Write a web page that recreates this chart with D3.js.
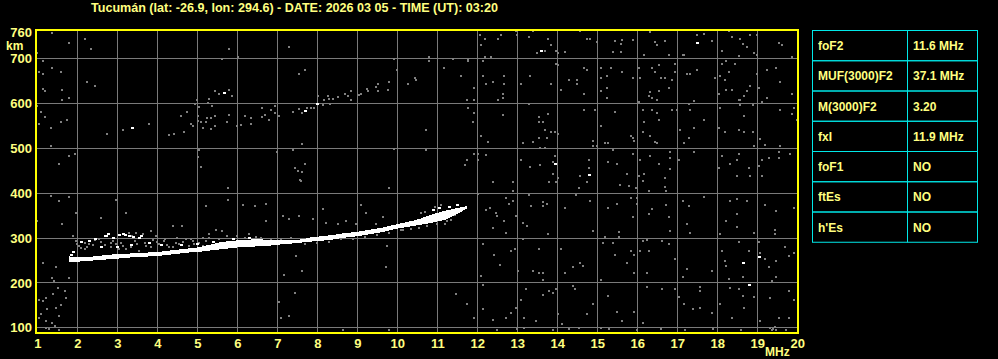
<!DOCTYPE html>
<html><head><meta charset="utf-8">
<script src="https://cdn.jsdelivr.net/npm/d3@7/dist/d3.min.js"></script>
<style>
html,body{margin:0;padding:0;background:#000;}
svg{display:block;}
text{font-family:"Liberation Sans",Arial,sans-serif;font-weight:bold;}
</style></head>
<body><svg id="c" width="998" height="359"></svg>
<script>
const titleText = "Tucumán (lat: -26.9, lon: 294.6) - DATE: 2026 03 05 - TIME (UT): 03:20";
const freqTicks = [1,2,3,4,5,6,7,8,9,10,11,12,13,14,15,16,17,18,19,20];
const heightTicks = [100,200,300,400,500,600,700,760];
const paramNames = ["foF2","MUF(3000)F2","M(3000)F2","fxI","foF1","ftEs","h'Es"];
const paramValues = ["11.6 MHz","37.1 MHz","3.20","11.9 MHz","NO","NO","NO"];

// main F-trace: frequency (MHz), lower and upper virtual height (km)
const traceF  = [1.8,2.0,2.2,2.4,2.6,2.8,3.0,3.2,3.4,3.6,3.8,4.0,4.2,4.4,4.6,4.8,5.0,5.2,5.4,5.6,5.8,6.0,6.2,6.4,6.6,6.8,7.0,7.2,7.4,7.6,7.8,8.0,8.2,8.4,8.6,8.8,9.0,9.2,9.4,9.6,9.8,10.0,10.2,10.4,10.6,10.8,11.0,11.2,11.4,11.6,11.75];
const traceLo = [245,246,248,249,250,252,253,255,256,257,258,259,261,263,265,267,268,270,272,274,276,278,279,280,281,282,284,286,287,289,291,292,294,296,299,301,303,306,309,312,316,320,323,326,329,332,336,340,348,358,365];
const traceHi = [258,256,257,258,260,262,263,264,265,266,267,268,270,272,274,276,278,282,286,290,292,294,295,296,296,295,294,294,295,296,300,302,304,306,309,311,313,316,319,322,326,330,334,338,343,350,355,360,364,368,370];

// bright echo points beside the trace
const whiteDots = [[2.68,304],[2.76,307],[2.72,304],[3.13,307],[3.05,306],[3.2,305],[3.3,304],[2.9,300],[3.55,300],[3.6,303],[3.4,301],[2.3,293],[2.45,296],[2.1,290],[1.9,268],[1.85,262],[2.6,278],[3.0,279],[3.35,283],[3.8,287],[4.1,283],[4.6,283],[5.0,286],[5.4,290],[5.9,297],[6.3,300],[10.9,362],[11.05,366],[11.3,368],[11.5,372],[3.38,545],[5.68,622],[7.68,582],[7.99,598],[13.59,716],[17.49,734],[13.93,465],[14.78,440],[18.63,244],[19.03,257],[18.78,194]];

// gray scatter / noise points
const grayDots = [
[1.38,756],[1.78,734],[2.19,743],[2.34,721],[1.0,712],[1.13,693],[1.03,670],[1.13,666],[1.38,678],[1.58,670],[2.23,648],[2.44,639],[1.15,632],[1.18,627],[1.63,629],[1.63,608],[1.78,611],[1.0,594],[1.09,580],[1.18,568],[1.03,553],[1.34,545],[1.59,559],[1.73,563],[1.34,505],[2.73,531],[3.13,541],[3.78,554],[4.30,529],[4.43,531],[4.68,536],[4.59,572],[4.73,581],[4.85,553],[4.88,550],[4.98,608],[4.95,598],[5.05,591],[5.03,571],[5.02,561],[5.09,559],[5.13,545],[5.22,559],[5.23,566],[5.30,609],[5.26,600],[5.34,566],[5.34,542],[5.44,571],[5.44,548],[5.38,594],[5.44,626],[5.53,620],[5.78,630],[5.88,617],[5.78,574],[5.73,557],[5.78,721],[5.63,698],[6.03,703],[6.00,550],[6.08,551],[6.19,572],[6.33,567],[6.33,554],[6.63,589],[6.68,574],[6.63,569],[6.78,562],[6.83,585],[6.93,594],[6.93,579],[7.03,572],[7.28,726],[7.53,666],[7.68,674],[7.38,581],[7.55,588],[7.62,578],[7.73,590],[7.85,590],[7.93,590],[8.03,617],[8.15,596],[8.18,608],[8.26,615],[8.30,609],[8.38,609],[8.33,599],[8.53,613],[8.70,620],[8.76,617],[8.83,626],[8.83,608],[9.03,618],[9.09,621],[9.23,631],[9.28,628],[9.48,637],[9.53,643],[9.53,626],[9.80,648],[9.78,630],[10.28,643],[10.43,655],[9.93,698],[9.98,675],[7.63,509],[6.98,492],[7.38,496],[7.43,456],[7.51,449],[7.63,447],[7.68,465],[7.58,429],[5.03,479],[5.05,496],[5.08,457],[1.78,483],[1.93,487],[1.53,465],[9.93,498],
[12.07,752],[12.08,730],[12.19,743],[12.53,742],[12.60,752],[12.97,762],[12.98,751],[13.28,748],[13.38,761],[13.48,712],[13.68,716],[13.78,743],[13.84,730],[13.98,716],[14.03,712],[14.18,715],[14.58,761],[14.73,743],[14.83,743],[14.98,737],[15.43,739],[15.58,731],[15.63,741],[15.38,715],[15.58,715],[15.88,741],[16.33,758],[16.43,736],[16.48,730],[16.68,739],[16.18,707],[16.78,707],[17.13,707],[17.18,707],[17.48,751],[17.68,755],[17.88,739],[18.28,761],[18.38,748],[18.58,743],[18.63,731],[18.83,751],[18.73,725],[18.93,712],[18.98,751],[18.98,707],[19.53,734],[19.63,730],[19.88,703],[18.13,716],[18.53,706],
[10.78,703],[10.78,693],[11.38,698],[11.78,697],[11.78,693],[12.13,693],[12.18,703],[12.33,703],[11.18,679],[11.58,661],[10.47,652],[12.13,661],[12.23,643],[12.38,648],[12.68,661],[12.68,643],[11.93,634],[11.73,608],[11.93,608],[12.53,608],[12.63,621],[12.63,611],[13.08,643],[13.33,661],[13.83,643],[13.98,688],[14.03,684],[14.08,630],[14.28,652],[14.48,652],[14.48,643],[14.68,679],[14.73,675],[14.68,621],[15.08,679],[15.08,657],[15.23,661],[15.33,679],[15.63,669],[15.88,657],[16.03,679],[16.08,657],[16.38,679],[16.43,670],[16.53,684],[16.58,657],[16.68,657],[16.88,652],[16.93,688],[16.93,670],[16.78,634],[16.53,627],[16.33,624],[16.28,617],[16.38,612],[16.48,608],[15.08,626],[15.23,634],[15.23,611],[17.23,666],[17.33,666],[17.48,675],[17.93,657],[18.08,661],[18.13,688],[18.23,693],[18.43,688],[18.28,670],[18.18,652],[18.23,630],[18.38,630],[18.03,621],[18.53,608],[18.58,608],[18.73,626],[18.68,617],[18.83,639],[18.98,666],[19.03,634],[19.23,675],[19.48,679],[19.58,648],[19.88,621],[19.23,612],[19.13,603],[17.43,605],[16.03,603],
[11.78,590],[11.93,577],[11.88,557],[10.73,539],[12.63,574],[12.08,527],[12.28,514],[13.28,599],[13.53,568],[13.53,559],[13.63,559],[13.78,576],[13.68,541],[13.83,536],[13.93,536],[14.03,532],[13.38,514],[13.53,523],[13.73,523],[13.13,510],[14.68,585],[14.93,585],[15.43,581],[15.08,550],[14.88,516],[14.88,504],[15.18,510],[15.28,510],[15.83,527],[15.88,523],[15.93,515],[16.13,585],[16.18,559],[16.38,585],[16.48,577],[16.53,563],[16.13,536],[16.33,527],[16.43,514],[16.48,510],[16.88,585],[16.98,584],[17.08,541],[17.28,597],[17.33,585],[17.43,545],[17.28,523],[17.18,510],[17.68,563],[18.08,590],[18.03,545],[18.18,536],[18.53,541],[18.68,572],[18.68,536],[18.88,536],[18.58,596],[18.88,596],[19.58,585],[19.93,590],[19.88,576],[19.98,563],[19.08,519],[19.18,507],[19.58,505],[18.93,505],
[10.73,496],[11.73,474],[11.68,462],[11.93,487],[12.03,487],[12.03,474],[12.23,484],[13.08,474],[13.33,458],[13.58,462],[13.58,501],[13.68,501],[13.88,469],[13.93,483],[13.90,441],[14.03,434],[14.58,438],[14.78,456],[14.78,474],[14.98,505],[15.38,496],[15.28,469],[15.48,465],[15.73,443],[15.88,487],[16.08,474],[16.18,443],[16.03,438],[16.33,483],[16.53,465],[16.68,434],[16.83,492],[16.83,478],[16.83,452],[17.03,474],[17.43,492],[18.03,456],[18.13,483],[18.33,465],[18.53,487],[18.48,474],[18.48,438],[18.78,456],[18.83,438],[19.03,460],[19.13,474],[19.13,438],[19.28,478],[19.53,492],[19.53,478],[19.83,487],
[1.88,304],[1.97,292],[2.05,281],[2.18,274],[2.30,285],[2.43,294],[2.55,296],[2.84,278],[2.97,285],[3.05,274],[3.22,274],[3.30,311],[3.38,304],[3.47,311],[3.55,270],[3.63,307],[3.72,281],[3.84,315],[3.97,304],[4.05,285],[4.18,292],[4.30,278],[4.38,326],[4.47,289],[4.55,285],[4.63,326],[4.72,296],[4.80,281],[4.93,285],[5.05,289],[5.13,300],[5.22,292],[5.30,307],[5.47,318],[5.55,296],[5.63,315],[2.0,286],[2.2,289],[2.6,290],[2.9,292],[3.1,289],[3.45,292],[3.9,295],[4.2,298],[4.5,300],[4.85,298],[5.3,300],[5.75,303],[6.0,304],[6.2,300],
[2.1,277],[2.25,280],[2.4,283],[2.7,284],[2.85,288],[3.15,282],[3.35,278],[3.5,285],[3.7,288],[3.85,279],[4.0,290],[4.25,284],[4.4,280],[4.65,290],[4.9,293],[5.15,281],[5.45,284],[5.6,285],[5.9,288],[6.1,290],[6.4,292],[6.6,299],[6.85,298],[7.1,298],[7.35,299],[7.7,286],[8.0,287],[8.3,290],[8.6,296],[8.9,298],[9.2,302],[9.5,305],[9.8,310],[10.1,316],[10.35,320],[10.55,322],[10.75,326],[11.0,330],[11.25,338],
[6.3,307],[6.47,301],[6.72,337],[7.13,348],[7.30,341],[7.55,348],[7.88,341],[8.13,363],[8.22,333],[8.51,330],[8.72,337],[8.97,330],[9.09,373],[9.22,356],[9.47,330],[9.63,345],[9.72,318],[10.13,318],[10.6,354],[10.7,358],[10.95,368],[11.1,372],[11.2,330],[11.45,350],[11.35,340],[10.5,330],
[7.47,259],[7.63,226],[7.18,217],[7.43,176],[7.03,157],[7.08,121],[7.28,125],[9.72,234],[9.73,281],
[1.05,162],[1.05,121],[1.13,159],[1.22,166],[1.38,211],[1.43,203],[1.51,188],[1.47,144],[1.55,125],[1.38,110],[1.22,114],[1.72,166],[1.80,211],[1.68,181],[1.47,234],[1.34,393],[1.55,382],[1.80,391],[1.63,330],[1.13,244],[0.99,337],[1.97,356],[2.59,343],[2.97,383],[3.22,356],[5.22,371],[5.76,385],[6.13,373],[6.43,370],[6.72,376],[5.76,410],[7.59,426],[9.8,410],[8.63,95],[9.80,95],[1.22,99],[1.55,95],[1.3,97],[1.45,102],[1.1,130],[1.25,140],[1.6,150],[1.4,175],
[12.38,423],[12.88,423],[12.88,404],[13.80,423],[13.97,423],[14.55,410],[14.73,423],[15.57,417],[15.80,416],[15.97,411],[16.13,426],[16.68,413],[16.73,404],[16.30,404],[12.03,397],[12.72,388],[12.88,382],[12.80,374],[13.30,395],[13.34,371],[13.63,380],[13.63,371],[13.73,376],[14.18,367],[14.47,395],[14.83,382],[15.28,367],[15.48,376],[15.83,389],[15.98,389],[15.98,374],[16.38,363],[16.73,373],[17.13,382],[17.28,371],[17.68,391],[18.33,382],[18.48,386],[18.73,382],[19.18,373],[19.48,359],[19.93,367],[12.22,361],[12.32,365],[12.47,356],[12.48,348],[12.68,337],[12.97,348],[12.38,322],[12.73,311],[13.13,333],[13.23,326],[13.78,307],[14.88,315],[15.18,301],[15.53,313],[15.53,301],[15.88,346],[16.28,352],[16.80,346],[16.83,315],[17.23,331],[17.33,311],[18.08,307],[18.23,337],[18.48,352],[18.48,324],[18.93,311],[19.43,318],[19.43,307],
[12.13,285],[12.43,261],[12.58,239],[12.83,270],[12.93,274],[13.13,296],[13.03,226],[13.38,226],[13.53,274],[13.53,222],[13.63,222],[13.63,205],[14.08,274],[14.18,222],[14.38,234],[14.58,243],[14.63,237],[15.08,205],[15.13,289],[15.38,289],[15.43,261],[15.73,243],[15.83,270],[15.93,261],[15.93,222],[16.08,270],[16.13,292],[16.23,295],[16.28,270],[16.23,222],[16.63,292],[16.78,285],[16.93,252],[17.13,212],[17.23,230],[17.88,226],[18.13,270],[18.18,248],[18.23,237],[18.78,270],[19.08,266],[19.18,252],[19.28,234],[19.48,248],[19.68,279],[19.78,259],[19.93,266],[19.38,203],[19.48,212],[18.53,291],[19.03,291],[18.3,207],[18.63,212],
[12.13,194],[12.08,214],[11.48,174],[11.73,153],[11.93,121],[12.13,140],[12.38,117],[12.73,121],[12.83,133],[12.97,144],[13.08,162],[13.22,185],[13.18,121],[13.18,99],[13.47,114],[13.63,172],[13.80,181],[13.88,177],[13.97,185],[14.03,130],[14.13,107],[14.38,192],[14.45,185],[14.55,99],[14.73,130],[14.88,153],[15.08,99],[15.28,170],[15.48,135],[15.63,114],[15.93,135],[16.13,110],[16.23,190],[16.63,185],[16.93,185],[17.05,168],[17.18,153],[17.38,140],[17.57,190],[17.58,180],[17.58,144],[17.88,133],[18.08,153],[18.33,187],[18.38,121],[18.53,185],[18.63,170],[18.68,144],[18.93,168],[19.33,166],[19.78,182],[19.78,121],[19.93,162],[19.08,114],[19.33,99],[19.40,97],[19.47,95],[19.72,95],[19.55,121],[19.36,95],[19.43,101],[12.5,95],[13.0,96],[13.9,95],[14.3,97],[15.3,96],[16.0,95],[16.6,97],[17.2,95],[17.9,96],[18.6,95]
];

const W = 998, H = 359;
const svg = d3.select("#c");
svg.append("rect").attr("width",W).attr("height",H).attr("fill","#000");

const x = d3.scaleLinear().domain([1,20]).range([37.3,797.3]);
const y = d3.scaleLinear().domain([100,700]).range([327.3,58.3]);
const plotL = 36, plotT = 30, plotR = 798, plotB = 333;
const labelColor = "#ffff80";

// title
svg.append("text").attr("x",91).attr("y",11.5).attr("fill",labelColor)
  .attr("font-size",12.5).attr("textLength",407).attr("lengthAdjust","spacingAndGlyphs")
  .text(titleText);

// gridlines
const grid = svg.append("g").attr("shape-rendering","crispEdges");
grid.append("g").attr("transform",`translate(0,${plotB})`)
  .call(d3.axisBottom(x).tickValues(freqTicks.slice(1,-1)).tickSize(-(plotB-plotT)).tickFormat(""))
  .call(g=>g.select(".domain").remove())
  .call(g=>g.selectAll("line").attr("stroke","#7a7a7a"));
grid.append("g").attr("transform",`translate(${plotL},0)`)
  .call(d3.axisLeft(y).tickValues(heightTicks.filter(h=>h<=700)).tickSize(-(plotR-plotL)).tickFormat(""))
  .call(g=>g.select(".domain").remove())
  .call(g=>g.selectAll("line").attr("stroke","#7a7a7a"));

// clip
svg.append("clipPath").attr("id","pc").append("rect")
  .attr("x",plotL).attr("y",plotT).attr("width",plotR-plotL).attr("height",plotB-plotT);
const plot = svg.append("g").attr("clip-path","url(#pc)").attr("shape-rendering","crispEdges");

plot.append("g").selectAll("rect").data(grayDots).join("rect")
  .attr("x",d=>Math.round(x(d[0]))-1).attr("y",d=>Math.round(y(d[1]))-1)
  .attr("width",2).attr("height",2).attr("fill","#808080");

const traceData = traceF.map((f,i)=>({f,lo:traceLo[i],hi:traceHi[i]}));
plot.append("path").datum(traceData)
  .attr("d",d3.area().x(d=>x(d.f)).y0(d=>y(d.lo)).y1(d=>y(d.hi)).curve(d3.curveMonotoneX))
  .attr("fill","#fff");

plot.append("g").selectAll("rect").data(whiteDots).join("rect")
  .attr("x",d=>Math.round(x(d[0]))-1).attr("y",d=>Math.round(y(d[1]))-1)
  .attr("width",3).attr("height",2).attr("fill","#fff");

// frame
svg.append("rect").attr("x",plotL).attr("y",plotT).attr("width",plotR-plotL).attr("height",plotB-plotT)
  .attr("fill","none").attr("stroke","#ffff00").attr("stroke-width",2).attr("shape-rendering","crispEdges");

// axis labels
const xa = svg.append("g").attr("transform",`translate(0,${plotB})`)
  .call(d3.axisBottom(x).tickValues(freqTicks).tickSize(0).tickPadding(0).tickFormat(d3.format("d")));
xa.select(".domain").remove();
xa.selectAll("text").attr("fill",labelColor).attr("font-size",13).attr("font-family",null)
  .attr("dy",null).attr("y",15);

const ya = svg.append("g").attr("transform",`translate(32,0)`)
  .call(d3.axisLeft(y).tickValues(heightTicks).tickSize(0).tickPadding(0).tickFormat(d3.format("d")));
ya.select(".domain").remove();
ya.selectAll("text").attr("fill",labelColor).attr("font-size",13).attr("font-family",null)
  .attr("dy","0.36em");

svg.append("text").attr("x",6).attr("y",50).attr("fill",labelColor).attr("font-size",12).text("km");
svg.append("text").attr("x",765).attr("y",356).attr("fill",labelColor).attr("font-size",12).text("MHz");

// table
const tL = 812.5, tR = 977.5, tT = 30.5, rowH = 30.25, tC = 907.5;
const tbl = svg.append("g");
const rowScale = d3.scaleBand().domain(paramNames).range([tT, tT + rowH*paramNames.length]);
tbl.selectAll("rect.row").data(paramNames).join("rect").attr("class","row")
  .attr("x",tL).attr("y",d=>rowScale(d)).attr("width",tR-tL).attr("height",rowScale.bandwidth())
  .attr("fill","none").attr("stroke","#00e8e8").attr("stroke-width",1);
tbl.append("line").attr("x1",tC).attr("x2",tC).attr("y1",tT).attr("y2",tT+rowH*paramNames.length)
  .attr("stroke","#00e8e8");
tbl.selectAll("text.n").data(paramNames).join("text").attr("class","n")
  .attr("x",818).attr("y",d=>rowScale(d)+rowScale.bandwidth()/2+4.5)
  .attr("fill",labelColor).attr("font-size",12).text(d=>d);
tbl.selectAll("text.v").data(paramValues).join("text").attr("class","v")
  .attr("x",913).attr("y",(d,i)=>rowScale(paramNames[i])+rowScale.bandwidth()/2+4.5)
  .attr("fill",labelColor).attr("font-size",12).text(d=>d);
</script></body></html>
